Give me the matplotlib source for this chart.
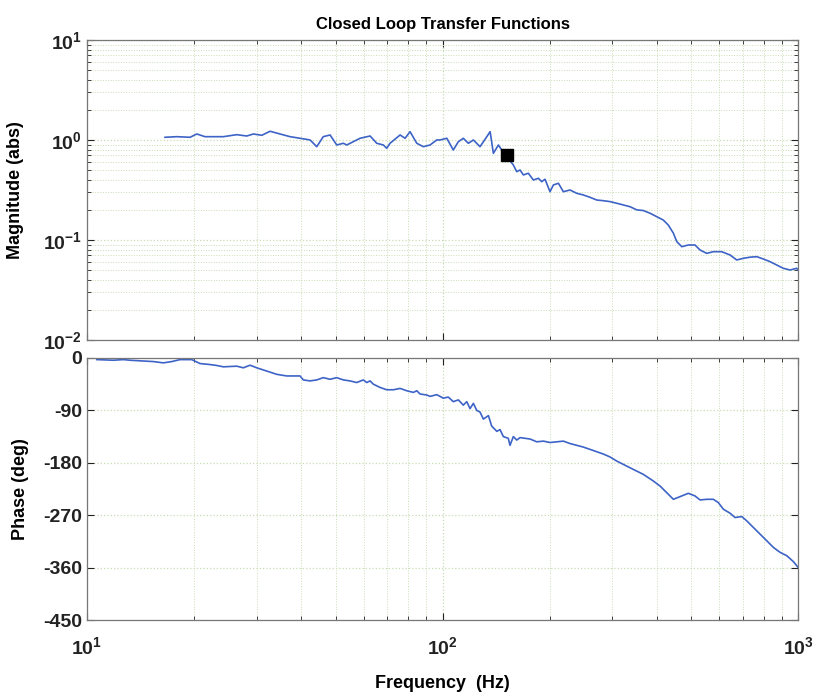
#!/usr/bin/env python3
"""Closed loop transfer function (Bode plot) recreated from a scanned figure."""
import numpy as np
import matplotlib
matplotlib.use("Agg")
import matplotlib.pyplot as plt
from matplotlib.ticker import LogLocator, FixedLocator, NullFormatter

# ---------------- data ----------------
mag_freq = [16.57, 17.88, 19.49, 20.35, 21.47, 24.18, 26.37, 28.14, 29.37, 31.01,
            32.72, 34.91, 37.24, 39.73, 42.41, 44.28, 46.18, 48.27, 50.40, 52.60,
            53.77, 58.61, 62.55, 65.30, 68.16, 69.66, 71.17, 75.96, 78.45, 81.04,
            84.63, 88.31, 92.22, 96.31, 98.4, 102.8, 107.2, 110.8, 114.4, 118.2,
            122.1, 127.5, 133.2, 136.1, 139.0, 143.6, 146.7,
            158.2, 161.7, 165.2, 168.8, 174.3, 180.1, 186.1, 190.1, 194.2, 200.6,
            205.0, 211.8, 218.7, 228.4, 238.5, 248.9, 260.0, 271.5, 283.4, 295.9,
            309.0, 322.6, 336.9, 351.9, 367.2, 383.5, 400.5, 418.0, 431.6, 446.0,
            456.0, 471.0, 491.4, 513.2, 530.1, 553.6, 577.8, 610.1, 643.8, 672.4,
            701.7, 732.8, 765.5, 798.9, 834.2, 871.0, 909.3, 949.5, 991.5, 1000.0]
mag_abs = [1.064, 1.079, 1.064, 1.148, 1.079, 1.079, 1.130, 1.096, 1.148, 1.114,
           1.222, 1.148, 1.079, 1.040, 1.000, 0.857, 1.079, 1.122, 0.891, 0.927,
           0.891, 1.040, 1.096, 0.927, 0.891, 0.826, 0.927, 1.122, 1.040, 1.211,
           0.927, 0.857, 0.891, 1.000, 1.000, 1.040, 0.794, 0.962, 1.040, 0.927,
           1.000, 0.857, 1.079, 1.211, 0.736, 0.891, 0.794,
           0.562, 0.482, 0.501, 0.447, 0.465, 0.398, 0.414, 0.383, 0.405, 0.304,
           0.355, 0.369, 0.304, 0.316, 0.293, 0.282, 0.267, 0.251, 0.247, 0.242,
           0.233, 0.224, 0.215, 0.200, 0.197, 0.185, 0.171, 0.158, 0.141, 0.117,
           0.0962, 0.0857, 0.0891, 0.0891, 0.0794, 0.0735, 0.0764, 0.0764, 0.0708, 0.0631,
           0.0656, 0.0673, 0.0681, 0.0645, 0.0607, 0.0562, 0.0521, 0.0501, 0.0521, 0.0500]

marker_freq = [151.6]
marker_abs = [0.70]

phase_freq = [10.65, 11.86, 12.65, 13.21, 15.37, 16.39, 17.31, 18.26, 19.70, 20.79,
              22.18, 23.17, 24.18, 26.37, 27.53, 28.74, 30.02, 32.03, 34.17, 36.45,
              39.73, 40.59, 42.41, 44.28, 46.18, 48.27, 50.40, 52.60, 54.93, 57.36,
              59.87, 61.21, 62.55, 63.87, 66.71, 69.66, 72.72, 75.96, 79.32, 82.80,
              84.63, 86.46, 90.28,
              92.22, 96.31, 100.5, 103.8, 107.2, 110.8, 114.4, 117.0, 119.5, 122.1,
              124.8, 127.5, 130.3, 134.6, 137.5, 142.1, 145.1, 148.3, 153.1, 154.8,
              158.2, 161.7, 165.2, 170.7, 176.3, 184.1, 192.1, 200.6, 209.5, 218.7,
              228.4, 238.5, 248.9, 260.0, 271.5, 283.4,
              295.9, 309.0, 329.7, 344.1, 367.2, 391.7, 409.1, 427.2, 446.0, 465.8,
              491.4, 513.2, 530.1, 553.6, 577.8, 596.8, 616.5, 643.8, 665.0, 694.5,
              717.3, 748.8, 781.9, 816.6, 852.1, 890.1, 929.4, 970.1, 1000.0]
phase_deg = [-2.8, -3.9, -2.8, -3.9, -6.2, -8.4, -6.2, -2.8, -2.8, -9.6,
             -11.3, -12.9, -15.2, -14.1, -16.9, -12.4, -16.9, -22.5, -28.1, -30.9,
             -30.9, -37.7, -39.4, -37.7, -33.8, -36.6, -33.8, -37.7, -39.4, -42.2,
             -37.7, -42.2, -39.4, -45.0, -50.6, -54.6, -54.6, -52.3, -56.3, -59.1,
             -56.3, -61.9, -63.6,
             -66.0, -63.0, -69.0, -67.2, -75.0, -72.0, -81.0, -75.0, -87.0, -78.0,
             -90.0, -93.0, -105.0, -99.0, -117.0, -126.0, -123.0, -135.0, -138.0, -150.0,
             -135.0, -141.0, -136.8, -138.0, -139.2, -144.0, -142.8, -145.2, -144.0, -142.8,
             -147.0, -150.0, -153.0, -157.0, -161.0, -165.0,
             -170.0, -177.0, -185.7, -191.4, -199.9, -211.3, -219.9, -231.3, -242.7, -238.1,
             -232.4, -237.0, -243.8, -242.7, -242.7, -248.4, -259.7, -266.6, -274.0, -272.3,
             -279.7, -291.1, -302.5, -313.9, -325.2, -333.8, -339.5, -349.7, -359.4]

phase_ticks = [0, -90, -180, -270, -360, -450]

line_color = "#3d63c6"
grid_color = "#c9dcb4"


def style_axes(ax):
    ax.set_xscale("log")
    ax.set_xlim(10, 1000)
    ax.xaxis.set_minor_locator(LogLocator(base=10, subs=np.arange(2, 10)))
    ax.xaxis.set_minor_formatter(NullFormatter())
    ax.grid(True, which="major", linestyle=":", color=grid_color, linewidth=0.9)
    ax.grid(True, which="minor", linestyle=":", color=grid_color, linewidth=0.7)
    ax.tick_params(which="both", direction="in", top=True, right=True,
                   labelsize=14, colors="#222222")
    ax.tick_params(which="major", length=5)
    ax.tick_params(which="minor", length=3)
    for s in ax.spines.values():
        s.set_color("#777777")
        s.set_linewidth(0.9)


def main():
    plt.rcParams["font.family"] = ["Liberation Sans", "DejaVu Sans"]
    plt.rcParams["font.weight"] = "bold"

    fig = plt.figure(figsize=(8.18, 6.94), dpi=100)
    ax1 = fig.add_axes([0.1064, 0.5101, 0.8692, 0.4323])
    ax2 = fig.add_axes([0.1064, 0.1066, 0.8692, 0.3776])

    # magnitude
    style_axes(ax1)
    ax1.set_yscale("log")
    ax1.set_ylim(1e-2, 1e1)
    ax1.yaxis.set_minor_locator(LogLocator(base=10, subs=np.arange(2, 10)))
    ax1.yaxis.set_minor_formatter(NullFormatter())
    ax1.plot(mag_freq, mag_abs, color=line_color, linewidth=1.2)
    ax1.plot(marker_freq, marker_abs, "s", color="black", markersize=8)
    ax1.set_xticklabels([])
    ax1.set_ylabel("Magnitude (abs)", fontsize=13, fontweight="bold", labelpad=14)
    ax1.set_title("Closed Loop Transfer Functions", fontsize=12, fontweight="bold", pad=8)

    # phase
    style_axes(ax2)
    ax2.set_ylim(-450, 0)
    ax2.yaxis.set_major_locator(FixedLocator(phase_ticks))
    ax2.set_yticklabels([str(t) for t in phase_ticks])
    ax2.plot(phase_freq, phase_deg, color=line_color, linewidth=1.2)
    ax2.set_ylabel("Phase (deg)", fontsize=13, fontweight="bold", labelpad=10)
    ax2.set_xlabel("Frequency  (Hz)", fontsize=13, fontweight="bold", labelpad=12)
    ax2.tick_params(axis="x", which="major", pad=12)

    fig.savefig("out.png", dpi=100, facecolor="white")
    return 0


if __name__ == "__main__":
    main()
